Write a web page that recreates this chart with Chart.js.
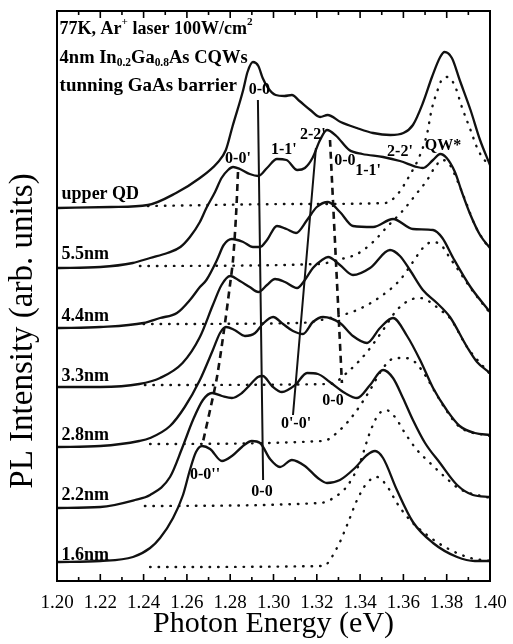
<!DOCTYPE html>
<html>
<head>
<meta charset="utf-8">
<script src="https://cdn.jsdelivr.net/npm/chart.js@4.4.1/dist/chart.umd.min.js"></script>
<style>
  html, body { margin: 0; padding: 0; background: #fff; }
</style>
</head>
<body>
<canvas id="plChart" width="513" height="644"></canvas>
<script>
const SERIF = '"Liberation Serif", "Times New Roman", serif';

// x tick labels (eV)
const energyTicks = [1.20, 1.22, 1.24, 1.26, 1.28, 1.30, 1.32, 1.34, 1.36, 1.38, 1.40];

// PL spectra, [photon energy (eV), offset intensity (arb.)]
const upperQD = [[1.200,37.3],[1.225,37.4],[1.242,37.6],[1.255,38.8],[1.266,40.3],[1.274,41.8],[1.278,43.1],[1.281,45.4],[1.286,49.1],[1.288,50.9],[1.2905,51.9],[1.293,51.5],[1.295,50.3],[1.2975,49.3],[1.301,48.6],[1.305,48.5],[1.3085,48.6],[1.312,48.0],[1.317,47.1],[1.3215,46.4],[1.325,46.6],[1.331,45.9],[1.3385,45.3],[1.346,44.8],[1.354,44.6],[1.360,44.8],[1.3644,45.6],[1.369,47.8],[1.3732,50.4],[1.377,52.4],[1.379,52.9],[1.3824,52.3],[1.386,50.1],[1.391,47.1],[1.3954,44.1],[1.400,41.6]];
const nm55 = [[1.200,31.3],[1.220,31.4],[1.235,31.8],[1.243,32.3],[1.251,32.8],[1.257,33.4],[1.2614,34.4],[1.266,35.9],[1.269,37.3],[1.273,38.9],[1.276,40.3],[1.279,41.1],[1.2813,41.4],[1.2845,41.2],[1.289,40.7],[1.293,40.5],[1.297,41.3],[1.3016,42.2],[1.306,42.1],[1.311,41.1],[1.3145,41.3],[1.318,42.3],[1.3215,44.1],[1.3247,45.1],[1.329,44.5],[1.335,43.1],[1.341,42.7],[1.3506,42.4],[1.3584,42.0],[1.3663,41.4],[1.369,41.3],[1.3737,42.1],[1.377,42.7],[1.380,42.3],[1.3838,40.9],[1.387,38.9],[1.391,36.6],[1.3954,34.6],[1.400,33.3]];
const nm44 = [[1.200,25.3],[1.220,25.4],[1.240,25.8],[1.2476,26.3],[1.2554,26.8],[1.2614,28.1],[1.266,29.4],[1.269,30.1],[1.2739,32.1],[1.277,33.6],[1.2808,34.2],[1.286,33.9],[1.2905,33.4],[1.2938,33.4],[1.297,34.1],[1.3016,35.5],[1.306,35.2],[1.3104,34.8],[1.3155,36.1],[1.320,37.4],[1.3252,37.9],[1.3307,36.9],[1.3367,35.5],[1.346,35.4],[1.3552,36.2],[1.3644,35.2],[1.3737,35.1],[1.378,34.3],[1.383,32.3],[1.391,29.4],[1.400,26.9]];
const nm33 = [[1.200,19.4],[1.220,19.4],[1.238,19.7],[1.2476,20.3],[1.258,21.8],[1.266,24.4],[1.272,27.6],[1.276,29.6],[1.280,30.5],[1.2845,30.0],[1.289,29.4],[1.293,28.9],[1.297,29.6],[1.3007,30.2],[1.3053,29.9],[1.3109,29.3],[1.3145,30.1],[1.3182,31.3],[1.3224,32.1],[1.3252,32.4],[1.3307,31.6],[1.3367,30.6],[1.3446,31.3],[1.3538,33.1],[1.3584,32.5],[1.363,31.1],[1.369,29.1],[1.3755,27.8],[1.3815,26.4],[1.3894,23.4],[1.394,21.9],[1.400,20.8]];
const nm28 = [[1.200,13.4],[1.220,13.5],[1.238,14.0],[1.243,14.3],[1.2522,15.5],[1.259,17.4],[1.266,20.1],[1.272,23.1],[1.2753,24.8],[1.278,25.4],[1.282,25.1],[1.2868,24.5],[1.2915,24.8],[1.295,25.7],[1.2998,26.4],[1.3044,25.7],[1.309,25.0],[1.3136,24.7],[1.3182,25.9],[1.3229,26.4],[1.3307,25.8],[1.3367,24.5],[1.3432,23.8],[1.3492,25.3],[1.3552,26.3],[1.3617,24.5],[1.3677,22.1],[1.3737,19.3],[1.380,17.1],[1.386,15.5],[1.393,14.8],[1.400,14.6]];
const nm22 = [[1.200,7.3],[1.220,7.4],[1.236,8.1],[1.243,8.6],[1.2522,10.4],[1.258,13.4],[1.2628,16.1],[1.2674,18.1],[1.2716,18.8],[1.2762,18.5],[1.2808,18.3],[1.2854,18.8],[1.2891,19.6],[1.2928,20.4],[1.295,20.5],[1.2993,19.5],[1.3039,18.9],[1.310,19.6],[1.3155,20.8],[1.3205,20.7],[1.326,19.9],[1.333,18.8],[1.3386,18.3],[1.3446,19.6],[1.3506,21.1],[1.3552,20.3],[1.3598,18.3],[1.3644,16.1],[1.370,13.8],[1.3769,11.8],[1.3848,9.6],[1.3921,8.6],[1.400,8.4]];
const nm16 = [[1.200,1.9],[1.220,2.0],[1.2351,2.4],[1.243,3.3],[1.2476,4.3],[1.2536,6.3],[1.2582,8.6],[1.2614,11.1],[1.2642,12.9],[1.267,13.5],[1.2707,13.2],[1.2762,12.0],[1.2808,12.5],[1.2854,13.4],[1.290,14.0],[1.2938,13.8],[1.2984,12.2],[1.303,11.4],[1.3085,12.1],[1.3145,11.5],[1.3205,10.3],[1.3247,9.8],[1.3307,10.1],[1.3376,11.3],[1.3432,12.6],[1.3469,13.0],[1.3506,12.3],[1.357,9.1],[1.3644,5.9],[1.3737,3.8],[1.3848,2.4],[1.393,2.0],[1.400,2.0]];

// dotted QW components on each spectrum's baseline
const upperQDfit = [[1.242,37.5],[1.312,37.7],[1.3515,37.8],[1.357,38.6],[1.363,40.6],[1.3677,42.6],[1.371,44.8],[1.373,47.1],[1.3755,48.9],[1.378,50.2],[1.3806,50.4],[1.384,49.4],[1.387,47.4],[1.391,45.1],[1.3945,43.1],[1.400,41.4]];
const nm55fit = [[1.2383,31.5],[1.3215,31.7],[1.3293,32.1],[1.3386,32.7],[1.346,33.9],[1.3524,35.4],[1.360,37.1],[1.3663,38.8],[1.371,40.1],[1.3746,41.4],[1.378,42.1],[1.3815,41.6],[1.3848,40.1],[1.3885,38.1],[1.393,35.6],[1.400,33.1]];
const nm44fit = [[1.240,25.7],[1.312,25.8],[1.326,26.3],[1.3386,27.1],[1.3492,28.4],[1.3584,30.1],[1.3644,31.9],[1.369,33.3],[1.3732,33.9],[1.3774,33.6],[1.3815,32.3],[1.386,30.9],[1.391,29.3],[1.400,26.8]];
const nm33fit = [[1.2406,19.6],[1.326,19.7],[1.3353,21.1],[1.3432,22.9],[1.3506,25.1],[1.357,27.1],[1.363,28.1],[1.3677,28.3],[1.3723,27.9],[1.377,27.1],[1.3815,26.3],[1.3894,23.4],[1.400,20.7]];
const nm28fit = [[1.243,13.7],[1.3229,14.0],[1.3307,15.1],[1.3376,16.8],[1.3446,19.1],[1.3506,21.3],[1.3561,22.3],[1.3607,22.3],[1.3653,21.9],[1.370,20.6],[1.3746,18.9],[1.380,17.0],[1.386,15.4],[1.400,14.5]];
const nm22fit = [[1.2406,7.5],[1.3215,7.8],[1.3284,8.4],[1.3344,9.6],[1.340,11.9],[1.3446,14.9],[1.3483,16.6],[1.352,17.1],[1.3561,16.4],[1.3607,14.8],[1.3663,13.1],[1.3723,11.8],[1.3792,10.4],[1.386,9.2],[1.400,8.3]];
const nm16fit = [[1.243,1.4],[1.3229,1.5],[1.3293,3.3],[1.334,5.6],[1.3386,8.1],[1.3432,9.8],[1.3478,10.4],[1.3524,9.5],[1.357,7.8],[1.363,6.1],[1.3709,4.6],[1.380,3.3],[1.391,2.3],[1.400,2.0]];

// transition guide lines
const guide00 = [[1.2928,48.1],[1.2952,10.1]];
const guide00p = [[1.2836,40.9],[1.2827,36.6],[1.2813,32.1],[1.2799,29.6],[1.2776,25.8],[1.2739,20.4],[1.2707,17.1],[1.2674,13.9]];
const guide0p0p = [[1.3196,43.3],[1.309,16.6]];
const guide00b = [[1.3261,44.1],[1.3316,19.8]];

// spectrum labels and peak labels
const sampleLabels = [["upper QD",38.7],["5.5nm",32.7],["4.4nm",26.5],["3.3nm",20.5],["2.8nm",14.6],["2.2nm",8.6],["1.6nm",2.6]];
const peakLabels = [["0-0",1.2935,49.1],["0-0'",1.2836,42.2],["1-1'",1.3048,43.1],["2-2'",1.3182,44.6],["0-0",1.333,42.0],["1-1'",1.3437,41.0],["2-2'",1.3584,42.9],["QW*",1.3783,43.5],["0'-0'",1.3104,15.7],["0-0",1.3275,18.0],["0-0''",1.2684,10.6],["0-0",1.2947,8.9]];

const toXY = arr => arr.map(p => ({x: p[0], y: p[1]}));

function spectrum(arr) {
    return { data: toXY(arr), borderColor: "#111", borderWidth: 2.3, pointRadius: 0, cubicInterpolationMode: "monotone", fill: false };
}
function dotted(arr) {
    return { data: toXY(arr), borderColor: "#111", borderWidth: 2.4, borderDash: [0.5, 8], borderCapStyle: "round", pointRadius: 0, cubicInterpolationMode: "monotone", fill: false };
}
function guide(arr, dash) {
    return { data: toXY(arr), borderColor: "#111", borderWidth: dash ? 2.6 : 2, borderDash: dash ? [7, 5] : [], pointRadius: 0, tension: 0.3, fill: false };
}

// draws text made of [string, 0|1|-1] pieces (normal / superscript / subscript)
function drawRich(ctx, parts, x, y, size) {
    let cx = x;
    parts.forEach(([t, k]) => {
        const s = k ? size * 0.62 : size;
        ctx.font = `bold ${s}px ${SERIF}`;
        const dy = k === 1 ? -size * 0.36 : k === -1 ? size * 0.25 : 0;
        ctx.fillText(t, cx, y + dy);
        cx += ctx.measureText(t).width;
    });
}

const annotations = {
    id: "annotations",
    afterDraw(chart) {
        const { ctx, chartArea: a, scales: { x, y } } = chart;
        ctx.save();
        ctx.strokeStyle = "#000";
        ctx.fillStyle = "#000";

        // frame with inward ticks
        ctx.lineWidth = 2;
        ctx.strokeRect(a.left, a.top, a.right - a.left, a.bottom - a.top);
        ctx.lineWidth = 1.6;
        for (let i = 0; i <= 20; i++) {
            const px = x.getPixelForValue(1.2 + i * 0.01);
            const len = i % 2 === 0 ? 7 : 4;
            ctx.beginPath();
            ctx.moveTo(px, a.bottom); ctx.lineTo(px, a.bottom - len);
            ctx.moveTo(px, a.top); ctx.lineTo(px, a.top + len);
            ctx.stroke();
        }

        // y title
        ctx.save();
        ctx.translate(23, 331);
        ctx.rotate(-Math.PI / 2);
        ctx.font = `33px ${SERIF}`;
        ctx.textAlign = "center";
        ctx.textBaseline = "middle";
        ctx.fillText("PL Intensity (arb. units)", 0, 0);
        ctx.restore();

        ctx.textBaseline = "middle";
        ctx.textAlign = "left";
        const x0 = x.getPixelForValue(1.2012);
        drawRich(ctx, [["77K, Ar", 0], ["+", 1], [" laser 100W/cm", 0], ["2", 1]], x0, y.getPixelForValue(55.2), 18);
        drawRich(ctx, [["4nm In", 0], ["0.2", -1], ["Ga", 0], ["0.8", -1], ["As CQWs", 0]], x0, y.getPixelForValue(52.3), 18.5);
        drawRich(ctx, [["tunning GaAs barrier", 0]], x0, y.getPixelForValue(49.5), 19);

        ctx.font = `bold 18px ${SERIF}`;
        sampleLabels.forEach(([t, v]) => ctx.fillText(t, x0 + 2, y.getPixelForValue(v)));

        ctx.textAlign = "center";
        ctx.font = `bold 16px ${SERIF}`;
        peakLabels.forEach(([t, e, v]) => ctx.fillText(t, x.getPixelForValue(e), y.getPixelForValue(v)));
        ctx.restore();
    }
};

new Chart(document.getElementById("plChart"), {
    type: "line",
    data: {
        datasets: [
            spectrum(upperQD), spectrum(nm55), spectrum(nm44), spectrum(nm33),
            spectrum(nm28), spectrum(nm22), spectrum(nm16),
            dotted(upperQDfit), dotted(nm55fit), dotted(nm44fit), dotted(nm33fit),
            dotted(nm28fit), dotted(nm22fit), dotted(nm16fit),
            guide(guide00, false), guide(guide00p, true), guide(guide0p0p, false), guide(guide00b, true)
        ]
    },
    options: {
        responsive: false,
        animation: false,
        layout: { padding: { left: 0, right: 23, top: 11, bottom: 0 } },
        plugins: { legend: { display: false }, tooltip: { enabled: false } },
        scales: {
            x: {
                type: "linear", min: 1.2, max: 1.4,
                afterBuildTicks: s => { s.ticks = energyTicks.map(v => ({ value: v })); },
                ticks: { callback: v => v.toFixed(2), font: { family: SERIF, size: 19 }, color: "#000", padding: 3, maxRotation: 0, autoSkip: false },
                grid: { display: false },
                border: { display: false },
                title: { display: true, text: "Photon Energy (eV)", font: { family: SERIF, size: 30 }, color: "#000", padding: { top: 0, bottom: 2 } },
                afterFit: s => { s.height = 63; }
            },
            y: {
                min: 0, max: 57,
                ticks: { display: false },
                grid: { display: false },
                border: { display: false },
                afterFit: s => { s.width = 57; }
            }
        }
    },
    plugins: [annotations]
});
</script>
</body>
</html>
